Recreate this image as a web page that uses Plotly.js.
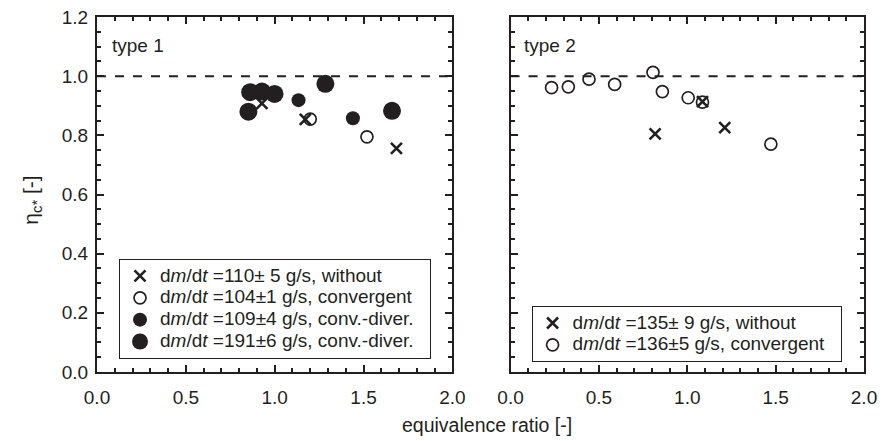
<!DOCTYPE html>
<html>
<head>
<meta charset="utf-8">
<script src="https://cdn.plot.ly/plotly-3.0.1.min.js"></script>
<style>html,body{margin:0;padding:0;background:#fff;}#chart{width:883px;height:441px;}</style>
</head>
<body>
<div id="chart"></div>
<script>
// ---- data: type 1 (left panel) ----
const t1_without_x = [0.928, 1.172, 1.685];
const t1_without_y = [0.908, 0.854, 0.756];
const t1_conv_x = [1.200, 1.519];
const t1_conv_y = [0.855, 0.795];
const t1_cd109_x = [1.134, 1.440];
const t1_cd109_y = [0.919, 0.858];
const t1_cd191_x = [0.852, 0.862, 0.928, 0.999, 1.285, 1.660];
const t1_cd191_y = [0.880, 0.946, 0.948, 0.940, 0.974, 0.883];
// ---- data: type 2 (right panel) ----
const t2_without_x = [0.818, 1.086, 1.212];
const t2_without_y = [0.805, 0.914, 0.826];
const t2_conv_x = [0.232, 0.327, 0.444, 0.589, 0.806, 0.859, 1.005, 1.086, 1.473];
const t2_conv_y = [0.961, 0.964, 0.990, 0.972, 1.013, 0.948, 0.927, 0.912, 0.770];
// ---- labels ----
const legend1 = [
  'd<i>m</i>/d<i>t</i> =110\u00b1 5 g/s, without',
  'd<i>m</i>/d<i>t</i> =104\u00b11 g/s, convergent',
  'd<i>m</i>/d<i>t</i> =109\u00b14 g/s, conv.-diver.',
  'd<i>m</i>/d<i>t</i> =191\u00b16 g/s, conv.-diver.'
];
const legend2 = [
  'd<i>m</i>/d<i>t</i> =135\u00b1 9 g/s, without',
  'd<i>m</i>/d<i>t</i> =136\u00b15 g/s, convergent'
];
const xTicks = [0, 0.5, 1.0, 1.5, 2.0];
const yTicks = [0, 0.2, 0.4, 0.6, 0.8, 1.0, 1.2];
const refLine = 1.0;

const C = '#231f20';
const FONT = 'Liberation Sans, Arial, sans-serif';
const big = s => '<span style="font-size:19px">' + s + '\u00a0\u00a0</span>';

const xMark = {symbol: 'x-thin', size: 11, color: C, line: {width: 2.6, color: C}};
const oMark = {symbol: 'circle-open', size: 12, color: C, line: {width: 1.7, color: C}};

const traces = [
  {x: t1_conv_x, y: t1_conv_y, mode: 'markers', name: big(legend1[1]), marker: oMark, legend: 'legend', legendrank: 2},
  {x: t1_cd109_x, y: t1_cd109_y, mode: 'markers', name: big(legend1[2]), marker: {symbol: 'circle', size: 14, color: C}, legend: 'legend', legendrank: 3},
  {x: t1_cd191_x, y: t1_cd191_y, mode: 'markers', name: big(legend1[3]), marker: {symbol: 'circle', size: 18, color: C}, legend: 'legend', legendrank: 4},
  {x: t1_without_x, y: t1_without_y, mode: 'markers', name: big(legend1[0]), marker: xMark, legend: 'legend', legendrank: 1},
  {x: t2_conv_x, y: t2_conv_y, mode: 'markers', name: big(legend2[1]), marker: oMark, xaxis: 'x2', yaxis: 'y2', legend: 'legend2', legendrank: 2},
  {x: t2_without_x, y: t2_without_y, mode: 'markers', name: big(legend2[0]), marker: xMark, xaxis: 'x2', yaxis: 'y2', legend: 'legend2', legendrank: 1}
];

function xax(domain, anchor) {
  return {
    domain: domain, anchor: anchor, range: [0, 2], tickvals: xTicks, tickformat: '.1f',
    ticks: 'inside', ticklen: 7, tickwidth: 2, tickcolor: C,
    minor: {dtick: 0.1, ticks: 'inside', ticklen: 4, tickwidth: 2, tickcolor: C},
    showline: true, linewidth: 2, linecolor: C, mirror: 'ticks',
    showgrid: false, zeroline: false, ticklabelstandoff: 7,
    tickfont: {family: FONT, size: 19, color: C}
  };
}
function yax(anchor, labels) {
  return {
    anchor: anchor, domain: [0, 1], range: [0, 1.2], tickvals: yTicks, tickformat: '.1f',
    ticks: 'inside', ticklen: 7, tickwidth: 2, tickcolor: C,
    minor: {dtick: 0.05, ticks: 'inside', ticklen: 4, tickwidth: 2, tickcolor: C},
    showline: true, linewidth: 2, linecolor: C, mirror: 'ticks',
    showgrid: false, zeroline: false, showticklabels: labels, ticklabelstandoff: 3,
    tickfont: {family: FONT, size: 19, color: C}
  };
}

const legendBase = {xanchor: 'left', yanchor: 'bottom', bgcolor: '#fff',
  bordercolor: C, borderwidth: 1, font: {family: FONT, size: 14.5, color: C}, traceorder: 'normal'};

const layout = {
  width: 883, height: 441,
  margin: {l: 97, r: 19, t: 17, b: 69},
  paper_bgcolor: '#fff', plot_bgcolor: '#fff',
  font: {family: FONT, color: C},
  xaxis: xax([0, 0.4634], 'y'),
  yaxis: yax('x', true),
  xaxis2: xax([0.5392, 1], 'y2'),
  yaxis2: yax('x2', false),
  showlegend: true,
  legend: Object.assign({x: 0.0287, y: 0.0366}, legendBase),
  legend2: Object.assign({x: 0.5666, y: 0.028}, legendBase),
  shapes: [
    {type: 'line', xref: 'x domain', yref: 'y', x0: 0, x1: 1, y0: refLine, y1: refLine, line: {color: C, width: 2, dash: 'dash'}},
    {type: 'line', xref: 'x2 domain', yref: 'y2', x0: 0, x1: 1, y0: refLine, y1: refLine, line: {color: C, width: 2, dash: 'dash'}}
  ],
  annotations: [
    {text: 'type 1', xref: 'x', yref: 'y', x: 0.073, y: 1.105, xanchor: 'left', yanchor: 'middle', showarrow: false, font: {family: FONT, size: 19, color: C}},
    {text: 'type 2', xref: 'x2', yref: 'y2', x: 0.066, y: 1.105, xanchor: 'left', yanchor: 'middle', showarrow: false, font: {family: FONT, size: 19, color: C}},
    {text: 'equivalence ratio [-]', xref: 'paper', yref: 'paper', x: 0.509, y: -0.149, xanchor: 'center', yanchor: 'middle', showarrow: false, font: {family: FONT, size: 19.5, color: C}},
    {text: '\u03b7<sub>c*</sub> [-]', xref: 'paper', yref: 'paper', x: -0.085, y: 0.485, xanchor: 'center', yanchor: 'middle', textangle: -90, showarrow: false, font: {family: FONT, size: 21, color: C}}
  ]
};

Plotly.newPlot('chart', traces, layout, {staticPlot: true, displayModeBar: false});
</script>
</body>
</html>
